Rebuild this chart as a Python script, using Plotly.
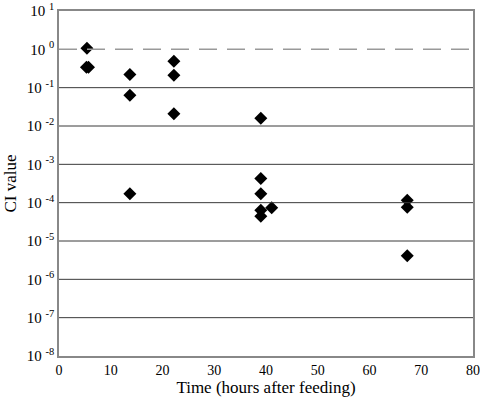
import plotly.graph_objects as go

# Data
time_h = [5.4, 5.3, 5.7, 13.7, 13.7, 13.7, 22.2, 22.2, 22.2,
          39.0, 39.0, 39.0, 39.0, 39.0, 41.1, 67.3, 67.3, 67.3]
ci_value = [1.07, 0.34, 0.34, 0.22, 0.063, 1.7e-4, 0.49, 0.21, 0.021,
            0.016, 4.3e-4, 1.7e-4, 6.3e-5, 4.4e-5, 7.4e-5, 1.15e-4, 7.6e-5, 4.1e-6]

y_exponents = [1, 0, -1, -2, -3, -4, -5, -6, -7, -8]
y_tickvals = [10.0 ** e for e in y_exponents]
y_ticktext = ["10 <sup>%d</sup>" % e for e in y_exponents]
x_tickvals = [0, 10, 20, 30, 40, 50, 60, 70, 80]

font_family = "Liberation Serif"

fig = go.Figure()
fig.add_trace(go.Scatter(
    x=time_h, y=ci_value, mode="markers",
    marker=dict(symbol="diamond", size=10, color="black"),
    showlegend=False,
))

# solid gridlines at each decade except 10^0 (dashed reference line)
for e in y_exponents:
    if e in (1, -8):
        continue
    if e == 0:
        fig.add_shape(type="line", xref="paper", x0=0, x1=1, yref="y",
                      y0=1.0, y1=1.0,
                      line=dict(color="#999999", width=1.5, dash="18px,10px"))
    else:
        fig.add_shape(type="line", xref="paper", x0=0, x1=1, yref="y",
                      y0=10.0 ** e, y1=10.0 ** e,
                      line=dict(color="#3a3a3a", width=1))

fig.update_layout(
    width=480, height=400,
    margin=dict(l=59, r=7, t=11, b=44),
    paper_bgcolor="white", plot_bgcolor="white",
    font=dict(family=font_family, color="black", size=14),
    xaxis=dict(
        range=[0, 80], tickvals=x_tickvals, showgrid=False, zeroline=False,
        showline=True, linecolor="#888888", linewidth=1.5, mirror=True,
        ticks="", automargin=False,
        tickfont=dict(family=font_family, size=14, color="black"),
        title=dict(text="Time (hours after feeding)",
                   font=dict(family=font_family, size=17, color="black"), standoff=2),
    ),
    yaxis=dict(
        type="log", range=[-8, 1], tickvals=y_tickvals, ticktext=y_ticktext,
        showgrid=False, zeroline=False,
        showline=True, linecolor="#888888", linewidth=1.5, mirror=True,
        ticks="", automargin=False,
        tickfont=dict(family=font_family, size=15, color="black"),
        title=dict(text="CI value",
                   font=dict(family=font_family, size=17, color="black"), standoff=6),
    ),
)

fig.write_html("out.html", config={"displayModeBar": False},
               post_script="document.body.style.margin='0';")
